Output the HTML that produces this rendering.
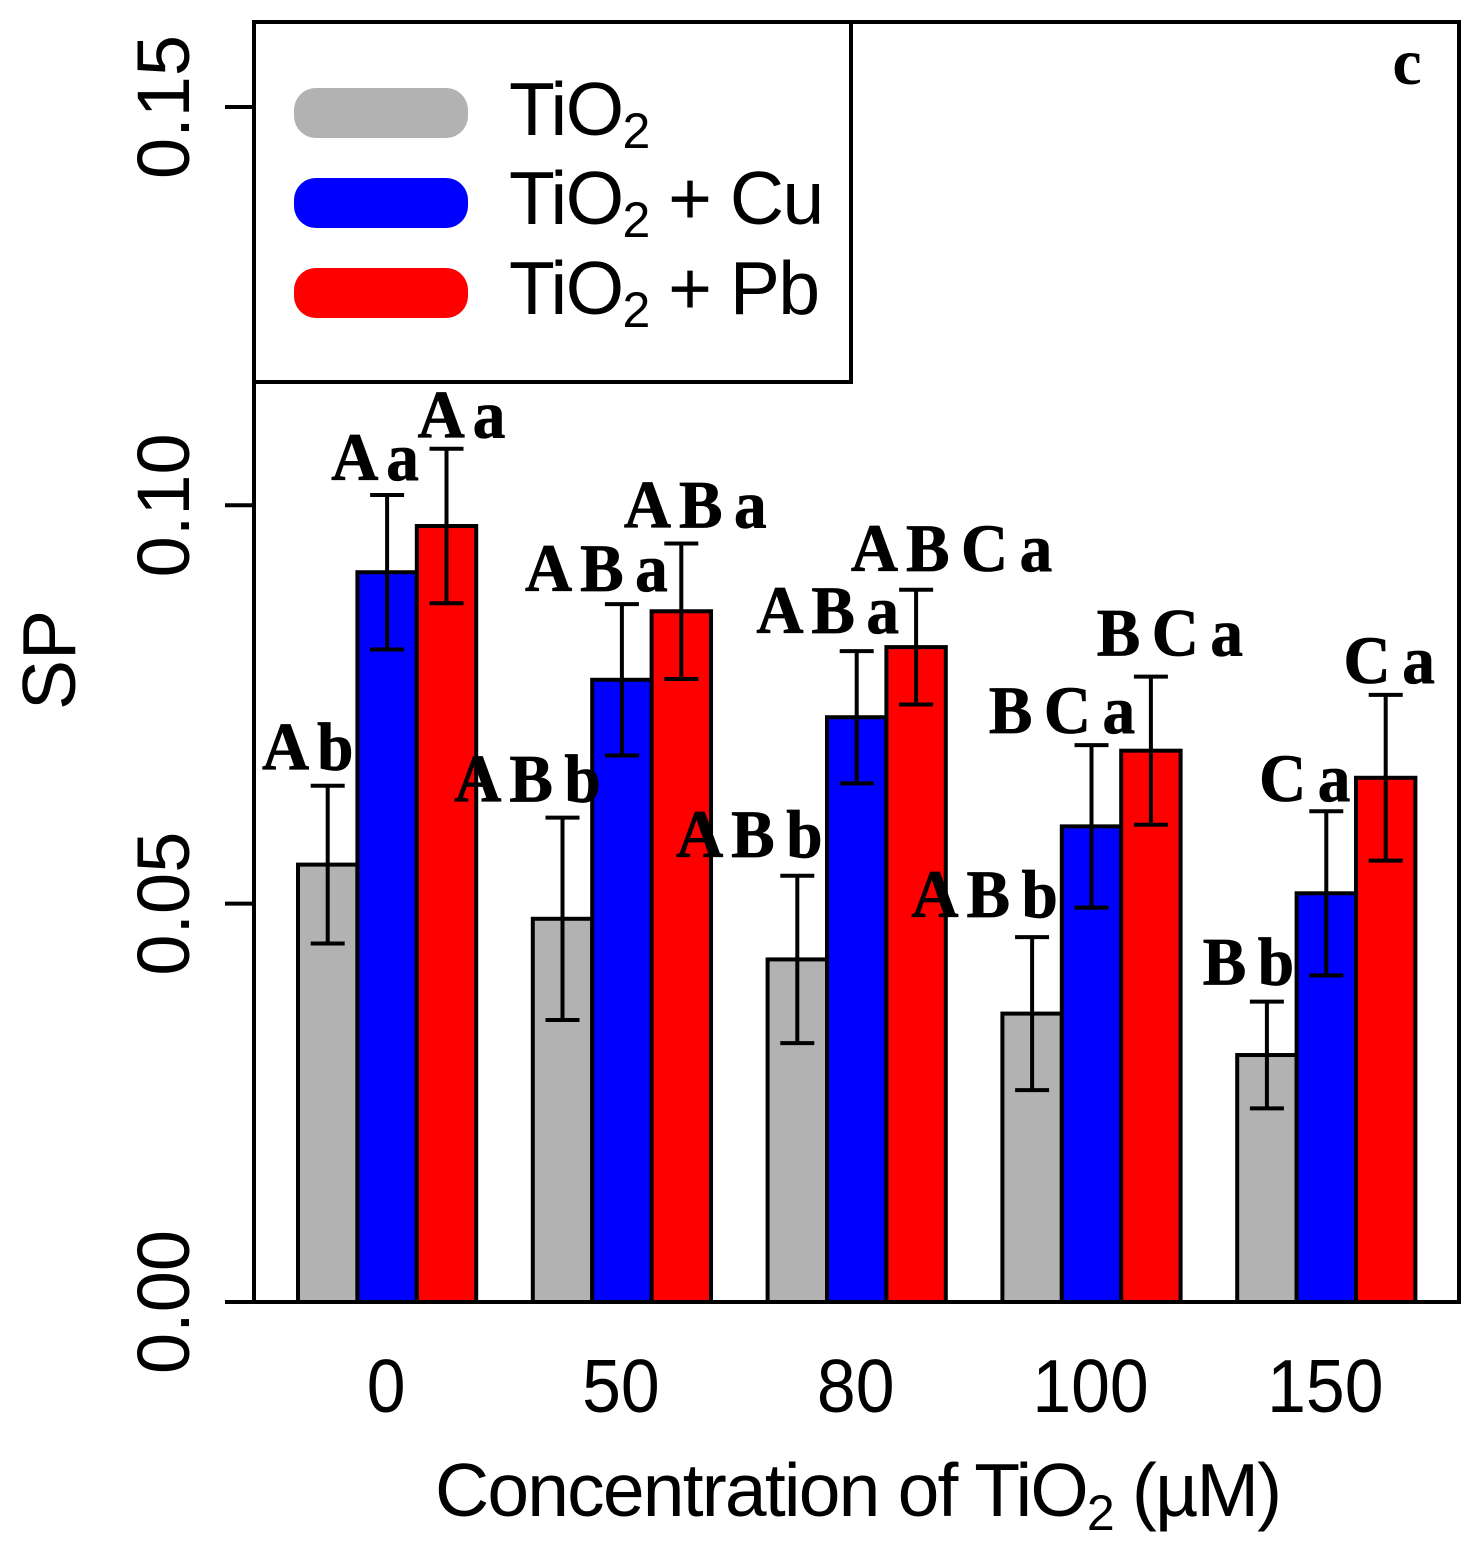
<!DOCTYPE html>
<html>
<head>
<meta charset="utf-8">
<title>SP vs concentration of TiO2</title>
<style>
html,body{margin:0;padding:0;background:#fff;width:1477px;height:1550px;overflow:hidden}
svg{display:block}
text{font-family:"Liberation Sans",Arial,sans-serif;fill:#000}
.sig{font-family:"Liberation Serif",serif;font-weight:bold;font-size:68px;word-spacing:-5px;text-anchor:middle;stroke:#000;stroke-width:.8px}
.leg{letter-spacing:-1.5px}
</style>
</head>
<body>
<svg id="chart" width="1477" height="1550" viewBox="0 0 1477 1550" xmlns="http://www.w3.org/2000/svg">
  <g id="bars"></g>
  <g id="errors"></g>
  <rect x="254" y="22" width="1205" height="1280" fill="none" stroke="#000" stroke-width="4"/>
  <g id="yaxis"></g>
  <g id="xaxis"></g>
  <g id="labels"></g>
  <text transform="translate(75,660) rotate(-90)" text-anchor="middle" font-size="75">SP</text>
  <text x="435" y="1516" font-size="75" style="letter-spacing:-1.8px">Concentration of TiO<tspan font-size="50" dy="14">2</tspan><tspan dy="-14"> (µM)</tspan></text>
  <text x="1407" y="84" text-anchor="middle" font-size="66" font-weight="bold" style="font-family:'Liberation Serif',serif">c</text>
  <g>
    <rect x="254" y="22" width="597" height="360" fill="#fff" stroke="#000" stroke-width="4"/>
    <rect x="294" y="88" width="174" height="50" rx="22" fill="#b2b2b2"/>
    <rect x="294" y="178" width="174" height="50" rx="22" fill="#0000ff"/>
    <rect x="294" y="268" width="174" height="50" rx="22" fill="#ff0000"/>
    <text class="leg" x="509" y="135" font-size="75">TiO<tspan font-size="50" dy="13">2</tspan></text>
    <text class="leg" x="509" y="224" font-size="75">TiO<tspan font-size="50" dy="13">2</tspan><tspan dy="-13"> + Cu</tspan></text>
    <text class="leg" x="509" y="314" font-size="75">TiO<tspan font-size="50" dy="13">2</tspan><tspan dy="-13"> + Pb</tspan></text>
  </g>
</svg>
<script>
const categories = ["0", "50", "80", "100", "150"];
const seriesNames = ["tio2", "tio2-cu", "tio2-pb"];
const seriesColors = ["#b2b2b2", "#0000ff", "#ff0000"];
const tio2Values = [0.0549, 0.0481, 0.0430, 0.0362, 0.0310];
const cuValues = [0.0916, 0.0781, 0.0734, 0.0597, 0.0513];
const pbValues = [0.0974, 0.0867, 0.0822, 0.0692, 0.0658];
const tio2Errors = [0.0099, 0.0127, 0.0105, 0.0096, 0.0067];
const cuErrors = [0.0097, 0.0095, 0.0083, 0.0102, 0.0103];
const pbErrors = [0.0097, 0.0085, 0.0072, 0.0093, 0.0104];
const tio2Letters = ["A b", "A B b", "A B b", "A B b", "B b"];
const cuLetters = ["A a", "A B a", "A B a", "B C a", "C a"];
const pbLetters = ["A a", "A B a", "A B C a", "B C a", "C a"];
const yTicks = [0, 0.05, 0.10, 0.15];
const yTickLabels = ["0.00", "0.05", "0.10", "0.15"];

// Hand placement of the letters relative to each error bar cap
const labelShiftX = [[-20,-35,-48,-47.5,-18.5],[-12,-25.5,-29,-29.5,-21.5],[15,14,35.5,19,3.5]];
const labelShiftY = [[16,16,19,20,17],[15,13,18,12,10],[11,16,19,21,12]];

const values = [tio2Values, cuValues, pbValues];
const errors = [tio2Errors, cuErrors, pbErrors];
const letters = [tio2Letters, cuLetters, pbLetters];

const NS = "http://www.w3.org/2000/svg";
function yScale(v){ return 1302 - v * 7967; }
function barLeft(g, s){ return 298 + g * 234.8 + s * 59.4; }
function barCenter(g, s){ return barLeft(g, s) + 29.7; }
function groupCenter(g){ return barCenter(g, 1); }
function make(tag, attrs, parent){
  const el = document.createElementNS(NS, tag);
  for (const k in attrs) el.setAttribute(k, attrs[k]);
  parent.appendChild(el);
  return el;
}

const barsG = document.getElementById("bars");
const errG = document.getElementById("errors");
const labG = document.getElementById("labels");
const yG = document.getElementById("yaxis");
const xG = document.getElementById("xaxis");

categories.forEach(function(cat, g){
  seriesNames.forEach(function(name, s){
    const v = values[s][g], e = errors[s][g];
    const bar = make("rect", {x: barLeft(g, s), y: yScale(v), width: 59.4, height: yScale(0) - yScale(v), fill: seriesColors[s], stroke: "#000", "stroke-width": 4}, barsG);
    
    

    const cx = barCenter(g, s), hi = yScale(v + e), lo = yScale(v - e);
    const err = make("path", {d: "M" + (cx - 17) + " " + hi + "H" + (cx + 17) + "M" + cx + " " + hi + "V" + lo + "M" + (cx - 17) + " " + lo + "H" + (cx + 17), fill: "none", stroke: "#000", "stroke-width": 4}, errG);
    
    

    const t = make("text", {"class": "sig", transform: "translate(" + (cx + labelShiftX[s][g]) + "," + (hi - labelShiftY[s][g]) + ") scale(.96,1)"}, labG);
    t.textContent = letters[s][g];
    
    
  });
  const tl = make("text", {transform: "translate(" + (groupCenter(g) - 1) + ",1412) scale(.93,1)", "text-anchor": "middle", "font-size": 75}, xG);
  tl.textContent = cat;
  
  
});

yTicks.forEach(function(v, i){
  const py = yScale(v);
  const tick = make("line", {x1: 225, x2: 254, y1: py, y2: py, stroke: "#000", "stroke-width": 4}, yG);
  
  
  const tl = make("text", {transform: "translate(189," + py + ") rotate(-90)", "text-anchor": "middle", "font-size": 74}, yG);
  tl.textContent = yTickLabels[i];
  
  
});
</script>
</body>
</html>
